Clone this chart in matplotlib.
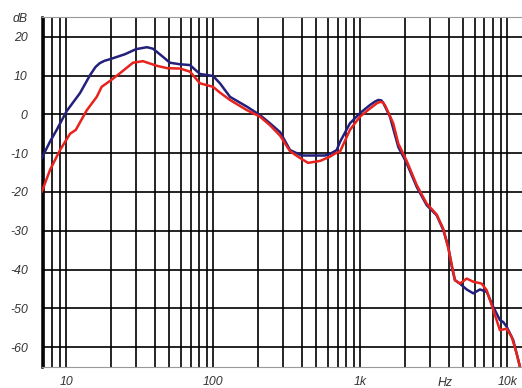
import matplotlib
matplotlib.use("Agg")
import matplotlib.pyplot as plt
from matplotlib.ticker import FixedLocator, NullLocator

# ---- data ----
blue_f = [6.8, 7.75, 8.6, 10.06, 12.4, 14.5, 15.8, 16.9, 18.2, 19.8, 25.1, 29.8, 35.4, 38.9, 45.5, 50.7,
          59.4, 69.4, 81.1, 99.5, 111, 130, 169, 208, 243, 285, 333, 399, 575, 622, 691, 728,
          851, 995, 1164, 1260, 1326, 1390, 1432, 1592, 1814, 2070, 2421, 2831, 3311, 3672, 3972, 4207,
          4406, 4765, 5293, 5870, 6519, 7244, 8035, 8918, 9394, 9908, 10990, 12200]
blue_db = [-11.3, -7.0, -4.0, 0.85, 5.5, 10.1, 12.2, 13.2, 13.8, 14.2, 15.5, 16.8, 17.3, 16.9, 14.8, 13.3,
           12.9, 12.7, 10.4, 9.9, 8.0, 4.5, 2.0, -0.2, -2.3, -4.6, -9.2, -10.6, -10.6, -10.2, -9.2, -7.1,
           -2.3, 0.3, 2.4, 3.3, 3.7, 3.6, 3.0, -0.6, -8.4, -12.6, -18.7, -23.4, -26.0, -29.8, -34.1, -39.5,
           -42.7, -43.6, -45.1, -46.1, -45.1, -45.7, -49.6, -53.0, -53.5, -54.7, -58.2, -65.0]

red_f = [6.8, 7.75, 9.06, 10.6, 11.6, 13.8, 16.1, 17.4, 19.8, 23.2, 28.4, 33.2, 41.4, 48.4,
         59.4, 69.4, 81.1, 99.5, 111, 130, 169, 208, 243, 285, 333, 377, 441, 532, 622, 673, 728,
         851, 995, 1164, 1290, 1361, 1420, 1471, 1676, 1814, 2070, 2421, 2831, 3311, 3672, 3972, 4406, 4765,
         5293, 5870, 6697, 7244, 8035, 8918, 9908, 10715, 11592, 12200]
red_db = [-20.0, -14.3, -9.2, -5.0, -4.0, 1.1, 4.5, 7.1, 8.6, 10.6, 13.3, 13.7, 12.5, 11.9,
          11.8, 11.0, 8.0, 7.1, 5.6, 3.7, 1.1, -0.6, -2.8, -5.5, -9.5, -10.9, -12.5, -12.0, -10.9, -10.1, -9.6,
          -4.0, -0.6, 1.5, 2.8, 3.2, 3.1, 2.4, -2.3, -7.5, -12.0, -18.2, -23.0, -25.8, -29.5, -34.5, -42.7, -43.6,
          -42.3, -43.1, -43.6, -45.3, -50.4, -55.6, -55.2, -57.3, -61.6, -65.0]

y_ticks = [25, 20, 10, 0, -10, -20, -30, -40, -50, -60]
y_labels = ["dB", "20", "10", "0", "-10", "-20", "-30", "-40", "-50", "-60"]
x_ticks = [10, 100, 1000, 10000]
x_labels = ["10", "100", "1k", "10k"]
grid_freqs = [m * 10 ** e for e in range(0, 5) for m in range(1, 10)]

# ---- figure ----
W, H = 522, 388
fig = plt.figure(figsize=(W / 100, H / 100), dpi=100)
ax = fig.add_axes([41.7 / W, (H - 366.7) / H, 1 - 41.7 / W, (366.7 - 17.3) / H])
ax.set_xscale("log")
ax.set_xlim(6.8, 12600)
ax.set_ylim(-65, 25)

# grid
for f in grid_freqs:
    if 6.8 < f < 12600:
        ax.axvline(f, color="black", lw=1.2, zorder=1)
for y in range(-60, 30, 10):
    ax.axhline(y, color="black", lw=1.2, zorder=1)

ax.plot(blue_f, blue_db, color="#23207c", lw=1.8, zorder=3,
        solid_joinstyle="round", solid_capstyle="round")
ax.plot(red_f, red_db, color="#e8221c", lw=1.8, zorder=4,
        solid_joinstyle="round", solid_capstyle="round")

txt = dict(family="Liberation Sans", style="italic", size=8.8, color="#333333")
ax.yaxis.set_major_locator(FixedLocator(y_ticks))
ax.set_yticklabels(y_labels, **txt)
ax.xaxis.set_major_locator(FixedLocator(x_ticks))
ax.xaxis.set_minor_locator(NullLocator())
ax.set_xticklabels(x_labels, **txt)
ax.tick_params(axis="both", length=0)
ax.tick_params(axis="y", pad=10)
ax.tick_params(axis="x", pad=6.5)
ax.text(3767, -67.6, "Hz", ha="center", va="top", **txt)

ax.spines["right"].set_visible(False)
ax.spines["left"].set_color("black")
ax.spines["left"].set_linewidth(1.8)
for s in ["top", "bottom"]:
    ax.spines[s].set_color("#999999")
    ax.spines[s].set_linewidth(0.8)

fig.savefig("out.png", dpi=100)
